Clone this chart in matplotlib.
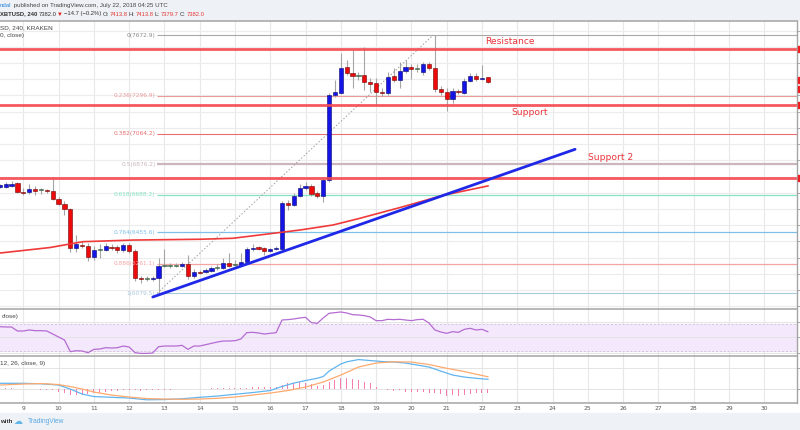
import matplotlib
matplotlib.use("Agg")
import matplotlib.pyplot as plt
from matplotlib.patches import Rectangle
from matplotlib.transforms import blended_transform_factory

# ---------------- data (XBTUSD 4h, KRAKEN, July 2018) ----------------
first_candle_day = 8 + 8 / 24          # July 8, 08:00
candle_step = 4 / 24                   # 4 hours
opens = [6738, 6738, 6742, 6758, 6705, 6705, 6721, 6715, 6715, 6711,
         6661, 6633, 6598, 6357, 6378, 6371, 6302, 6347, 6347, 6363,
         6363, 6347, 6378, 6343, 6176, 6168, 6166, 6172, 6250, 6250,
         6250, 6248, 6260, 6186, 6213, 6209, 6219, 6234, 6238, 6265,
         6256, 6254, 6273, 6351, 6363, 6359, 6343, 6351, 6351, 6635,
         6626, 6682, 6727, 6742, 6697, 6680, 6779, 7303, 7317, 7474,
         7441, 7423, 7426, 7385, 7380, 7323, 7314, 7420, 7396, 7453,
         7474, 7463, 7442, 7492, 7468, 7338, 7323, 7277, 7328, 7317,
         7391, 7420, 7400, 7413.8]
highs = [6754, 6766, 6772, 6766, 6729, 6754, 6742, 6729, 6721, 6797,
         6674, 6649, 6606, 6439, 6402, 6390, 6371, 6384, 6390, 6384,
         6378, 6390, 6390, 6353, 6186, 6186, 6186, 6297, 6353, 6266,
         6266, 6273, 6316, 6230, 6223, 6236, 6248, 6260, 6297, 6328,
         6285, 6328, 6365, 6384, 6371, 6365, 6359, 6371, 6649, 6655,
         6698, 6754, 6766, 6754, 6711, 6791, 7315, 7396, 7562, 7519,
         7581, 7445, 7599, 7408, 7408, 7346, 7445, 7470, 7507, 7519,
         7494, 7494, 7507, 7507, 7672.9, 7359, 7346, 7346, 7340, 7408,
         7439, 7439, 7488, 7413.8]
lows = [6729, 6729, 6735, 6698, 6686, 6692, 6686, 6692, 6698, 6655,
        6624, 6563, 6334, 6334, 6359, 6279, 6285, 6297, 6341, 6347,
        6328, 6334, 6328, 6156, 6143, 6156, 6156, 6079.5, 6242, 6236,
        6242, 6242, 6168, 6174, 6199, 6205, 6211, 6223, 6230, 6242,
        6248, 6248, 6266, 6341, 6347, 6316, 6334, 6347, 6347, 6593,
        6618, 6674, 6717, 6680, 6668, 6645, 6766, 7291, 7309, 7426,
        7346, 7396, 7334, 7322, 7241, 7297, 7303, 7383, 7346, 7439,
        7402, 7445, 7426, 7457, 7322, 7303, 7204, 7254, 7309, 7309,
        7383, 7389, 7396, 7379.7]
closes = [6745, 6751, 6754, 6706, 6701, 6721, 6711, 6715, 6709, 6661,
          6633, 6598, 6357, 6382, 6370, 6302, 6347, 6347, 6370, 6362,
          6347, 6378, 6343, 6176, 6166, 6168, 6176, 6248, 6250, 6250,
          6250, 6259, 6186, 6213, 6207, 6223, 6234, 6234, 6265, 6250,
          6256, 6273, 6351, 6359, 6355, 6339, 6353, 6361, 6635, 6626,
          6682, 6727, 6742, 6692, 6680, 6779, 7303, 7323, 7468, 7441,
          7420, 7423, 7385, 7371, 7319, 7315, 7417, 7396, 7453, 7474,
          7462, 7463, 7493, 7468, 7340, 7323, 7277, 7328, 7319, 7391,
          7420, 7400, 7410, 7382.0]

# moving average (red line)
ma_days = [8.34, 9.76, 10.69, 12.11, 14.01, 14.94, 15.91, 16.84, 17.78,
           18.5, 19.7, 20.9, 22.17]
ma_values = [6328, 6362, 6398, 6408, 6413, 6419, 6445, 6470, 6501,
             6540, 6610, 6684, 6742]

# Fibonacci retracement
fib_ratios = ["0", "0.236", "0.382", "0.5", "0.618", "0.764", "0.886", "1"]
fib_prices = [7672.9, 7296.9, 7064.2, 6876.2, 6688.2, 6455.6, 6261.1, 6079.5]
fib_colors = ["#a8a8a8", "#eb9a9a", "#e86f6f", "#cbb6c0", "#86e3c3",
              "#7fc0ea", "#f5a3a3", "#a9c9dd"]
fib_widths = [0.8, 0.8, 0.8, 1.6, 0.9, 0.9, 0.9, 0.8]
fib_start_day = 12.79
fib_end_day = 20.62

# support / resistance annotations
sr_labels = ["Resistance", "Support", "Support 2"]
sr_prices = [7588.7, 7243.0, 6792.8]
sr_text_days = [22.09, 22.84, 25.01]
sr_text_prices = [7632, 7197, 6916]

# trend line
trend_days = [12.67, 24.64]
trend_prices = [6056.7, 6968.0]

# price-axis tags at right
tag_prices = [7588.7, 7397, 7340, 7243.0, 6792.8]

# RSI (per candle)
rsi = [66, 65.5, 65.5, 59.5, 59.5, 61, 60, 60, 59.5, 55,
       50.5, 46, 28.5, 30, 29.5, 27, 32, 32.5, 34.5, 34,
       34.5, 37, 35.5, 27, 26, 26, 26.5, 36, 37, 37,
       37, 38, 32, 37, 37, 39, 41, 43, 44.5, 44.5,
       45, 47.5, 57, 57.5, 56.5, 55, 56, 57, 76, 76.5,
       77.5, 79, 80, 72, 71, 79, 86, 87, 88, 86.5,
       84, 83.5, 82.5, 80.5, 75, 75, 77, 76.5, 77, 76,
       75, 76.5, 77, 71.5, 61, 58, 56, 58.5, 57.5, 62,
       63.5, 61, 62, 58.5]

# MACD (12, 26, close, 9)
macd_days = [8.33, 9.0, 9.5, 10.0, 10.33, 10.67, 11.0, 11.5, 12.0, 12.5,
             13.0, 13.5, 14.0, 14.5, 15.0, 15.5, 16.0, 16.33, 16.67, 17.0,
             17.33, 17.5, 17.67, 17.83, 18.0, 18.17, 18.5, 18.83, 19.17,
             19.5, 19.83, 20.17, 20.5, 20.83, 21.17, 21.5, 21.83, 22.17]
macd_values = [24, 24, 22, 17, 1, -19, -29, -32, -35, -42,
               -41, -38, -32, -27, -20, -13, -5, 11, 25, 35,
               44, 51, 73, 87, 101, 110, 119, 115, 111,
               109, 105, 97, 89, 73, 57, 49, 44, 40]
signal_days = [8.33, 9.0, 9.5, 10.0, 10.33, 10.67, 11.0, 11.5, 12.0, 12.5,
               13.0, 13.5, 14.0, 14.5, 15.0, 15.5, 16.0, 16.5, 17.0, 17.5,
               18.0, 18.5, 19.0, 19.5, 20.0, 20.5, 21.0, 21.5, 22.17]
signal_values = [17, 21, 23, 19, 11, 1, -11, -23, -31, -37,
                 -39, -40, -39, -36, -31, -23, -15, -5, 9, 29,
                 57, 89, 105, 110, 109, 99, 84, 71, 50]
macd_hist = [5, 5, 4, 3, 3, 2, 1, -1, -2, -3,
             -9, -13, -23, -24, -23, -20, -16, -13, -11, -8,
             -5, -4, -3, -4, -5, -4, -3, -2, -1, -1,
             0, 1, 1, 2, 3, 3, 4, 4, 4, 5,
             5, 5, 7, 8, 8, 9, 9, 9, 17, 24,
             27, 31, 24, 21, 13, 17, 31, 37, 47, 44,
             43, 37, 31, 24, 8, 3, -3, -5, -4, -9,
             -9, -11, -11, -13, -16, -19, -27, -24, -25, -23,
             -20, -16, -15, -13]

day_labels = list(range(9, 31))

# ---------------- layout ----------------
W, H = 800, 430
fig = plt.figure(figsize=(8, 4.3), dpi=100)
fig.patch.set_facecolor("white")
SMALL = ["Liberation Sans", "DejaVu Sans"]


def fx(px):
    return px / W


def fy(py):
    return 1 - py / H


RIGHT = 797
X0 = 9 - 23.3 / 35.28
X1 = 9 + (RIGHT - 23.3) / 35.28


def make_ax(top, bottom):
    a = fig.add_axes([0, fy(bottom), fx(RIGHT), (bottom - top) / H])
    a.set_xlim(X0, X1)
    for s in a.spines.values():
        s.set_visible(False)
    a.set_facecolor("white")
    a.tick_params(axis="x", bottom=False, labelbottom=False)
    a.tick_params(axis="y", left=False, labelleft=False, right=True,
                  labelright=False, length=2, color="#9a9a9a", width=0.6)
    for d in day_labels:
        a.axvline(d, color="#e8e8e8", lw=0.8, zorder=0)
    return a


ax = make_ax(21, 308.7)
ax_rsi = make_ax(309.3, 356.3)
ax_macd = make_ax(356.3, 403)

# ---------------- main pane ----------------
ax.set_ylim(5984.5, 7759.6)
grid_levels = list(range(6000, 7800, 100))
ax.set_yticks(grid_levels)
for g in grid_levels:
    ax.axhline(g, color="#ececec", lw=0.8, zorder=0)

days = [first_candle_day + i * candle_step for i in range(len(opens))]

ax.vlines(days, lows, highs, color="#a6a6a6", lw=0.8, zorder=3)
body_bottom, body_height, body_color, body_edge = [], [], [], []
for o, c in zip(opens, closes):
    body_bottom.append(min(o, c))
    body_height.append(max(abs(c - o), 5))
    if c > o:
        body_color.append("#1414e6"); body_edge.append("#06066e")
    elif c < o:
        body_color.append("#ec0a0a"); body_edge.append("#6e0606")
    else:
        body_color.append("#3f6b4c"); body_edge.append("#3f6b4c")
ax.bar(days, body_height, bottom=body_bottom, width=0.118,
       color=body_color, edgecolor=body_edge, linewidth=0.4, zorder=4)

ax.plot(ma_days, ma_values, color="#f03a3a", lw=1.2, zorder=5)

# fib levels
for r, p, c, w in zip(fib_ratios, fib_prices, fib_colors, fib_widths):
    ax.hlines(p, fib_start_day, X1, color=c, lw=w, zorder=2)
    ax.text(fib_start_day - 0.04, p, f"{r}({p:.1f})", ha="right",
            va="center", fontsize=4.2, color=c if r != "0" else "#8c8c8c",
            zorder=6)
ax.plot([fib_start_day, fib_end_day], [fib_prices[-1], fib_prices[0]],
        color="#a0a0a0", lw=0.7, ls=(0, (1.5, 2)), zorder=2)

# support / resistance lines
for p in sr_prices:
    ax.axhline(p, color="#f4474d", lw=2.0, alpha=0.9, zorder=6)
for lab, d, p in zip(sr_labels, sr_text_days, sr_text_prices):
    ax.text(d, p, lab, color="#e8353b", fontsize=6.6, ha="left",
            va="center", zorder=7)

ax.plot(trend_days, trend_prices, color="#1e28e6", lw=2.0,
        solid_capstyle="round", zorder=7)

# right price tags (clipped at image edge)
tag_tr = blended_transform_factory(fig.transFigure, ax.transData)
for p in tag_prices:
    fig.patches.append(Rectangle((fx(RIGHT + 0.5), p - 19), fx(6), 38,
                                 transform=tag_tr, color="#f01e1e",
                                 zorder=10))

# ---------------- RSI pane ----------------
ax_rsi.set_ylim(21.6, 92.0)
ax_rsi.set_yticks([26, 50, 73.5])
ax_rsi.axhspan(30, 70, color="#f4e8fc", zorder=0)
for g in [26, 50, 73.5]:
    ax_rsi.axhline(g, color="#e4e4e4", lw=0.7, zorder=0.5)
for g in [30, 70]:
    ax_rsi.axhline(g, color="#d2c4dc", lw=0.7, ls=(0, (2, 2)), zorder=1)
ax_rsi.plot(days, rsi, color="#b46cd2", lw=0.9, zorder=3)

# ---------------- MACD pane ----------------
ax_macd.set_ylim(-54.8, 132)
ax_macd.set_yticks([0, 84])
for g in [0, 84]:
    ax_macd.axhline(g, color="#e4e4e4", lw=0.7, zorder=0.5)
ax_macd.bar(days, macd_hist, width=0.028, color="#f57eb0", zorder=2)
ax_macd.plot(macd_days, macd_values, color="#62b4ef", lw=0.9, zorder=3)
ax_macd.plot(signal_days, signal_values, color="#ffaa6e", lw=0.9, zorder=3)

# x labels
lab_tr = blended_transform_factory(ax_macd.transData, fig.transFigure)
for d in day_labels:
    fig.text(d, fy(408.3), str(d), transform=lab_tr, ha="center",
             va="center", fontsize=4.3, color="#555555")

# ---------------- frame lines ----------------
for ypx in [21, 309, 356.3, 403.3]:
    fig.lines.append(plt.Line2D([0, fx(RIGHT)], [fy(ypx), fy(ypx)],
                                transform=fig.transFigure,
                                color="#a4a4a4", lw=1.1, zorder=9))
fig.lines.append(plt.Line2D([fx(RIGHT), fx(RIGHT)], [fy(21), fy(403.3)],
                            transform=fig.transFigure, color="#a4a4a4",
                            lw=1.0, zorder=9))

# ---------------- header / footer ----------------
fig.patches.append(Rectangle((0, fy(19.5)), 1, 19.5 / H,
                             transform=fig.transFigure, color="#eef1f5",
                             zorder=0))
fig.patches.append(Rectangle((0, 0), 1, (H - 412.5) / H,
                             transform=fig.transFigure, color="#eef1f5",
                             zorder=0))

renderer = fig.canvas.get_renderer()


def seq_text(parts, ypx, size, gap=0.0):
    """parts: (text, colour, weight, preferred left x in px)"""
    x_end = -1e9
    for s, c, w, xp in parts:
        x = max(xp, x_end + gap)
        t = fig.text(fx(x), fy(ypx), s, color=c, fontsize=size,
                     fontweight=w, ha="left", va="center", family=SMALL)
        x_end = x + t.get_window_extent(renderer).width


seq_text([("ndal", "#2b86dc", "normal", 0),
          (" published on TradingView.com, July 22, 2018 04:25 UTC",
           "#444444", "normal", 0)], 5.7, 4.4)

seq_text([("XBTUSD, 240", "#333333", "bold", 0),
          ("7382.0", "#333333", "normal", 38.3),
          ("\u25BC", "#e02020", "normal", 57.3),
          ("\u221214.7 (\u22120.2%)", "#333333", "normal", 63.3),
          ("O:", "#333333", "normal", 101.7),
          ("7413.8", "#e53935", "normal", 106.7),
          ("H:", "#333333", "normal", 128.3),
          ("7413.8", "#e53935", "normal", 133.3),
          ("L:", "#333333", "normal", 154),
          ("7379.7", "#e53935", "normal", 158.3),
          ("C:", "#333333", "normal", 180),
          ("7382.0", "#e53935", "normal", 185)], 14, 4.2, gap=1.0)

fig.text(fx(0), fy(28), "SD, 240, KRAKEN", color="#444444", fontsize=4.6,
         ha="left", va="center", family=SMALL)
fig.text(fx(0), fy(35.7), "0, close)", color="#444444", fontsize=4.6,
         ha="left", va="center", family=SMALL)
fig.text(fx(1.5), fy(316.7), "close)", color="#444444", fontsize=4.6,
         ha="left", va="center", family=SMALL)
fig.text(fx(0), fy(364), "12, 26, close, 9)", color="#444444", fontsize=4.6,
         ha="left", va="center", family=SMALL)

fig.text(fx(0), fy(421.7), "with", color="#333333", fontsize=4.4,
         fontweight="bold", ha="left", va="center", family=SMALL)
fig.text(fx(13.5), fy(421.5), "\u2601", color="#62b6ea", fontsize=6.5,
         ha="left", va="center")
fig.text(fx(27.5), fy(421.7), "TradingView", color="#5aa8e2", fontsize=4.8,
         ha="left", va="center", family=SMALL)

fig.savefig("out.png", dpi=100)
